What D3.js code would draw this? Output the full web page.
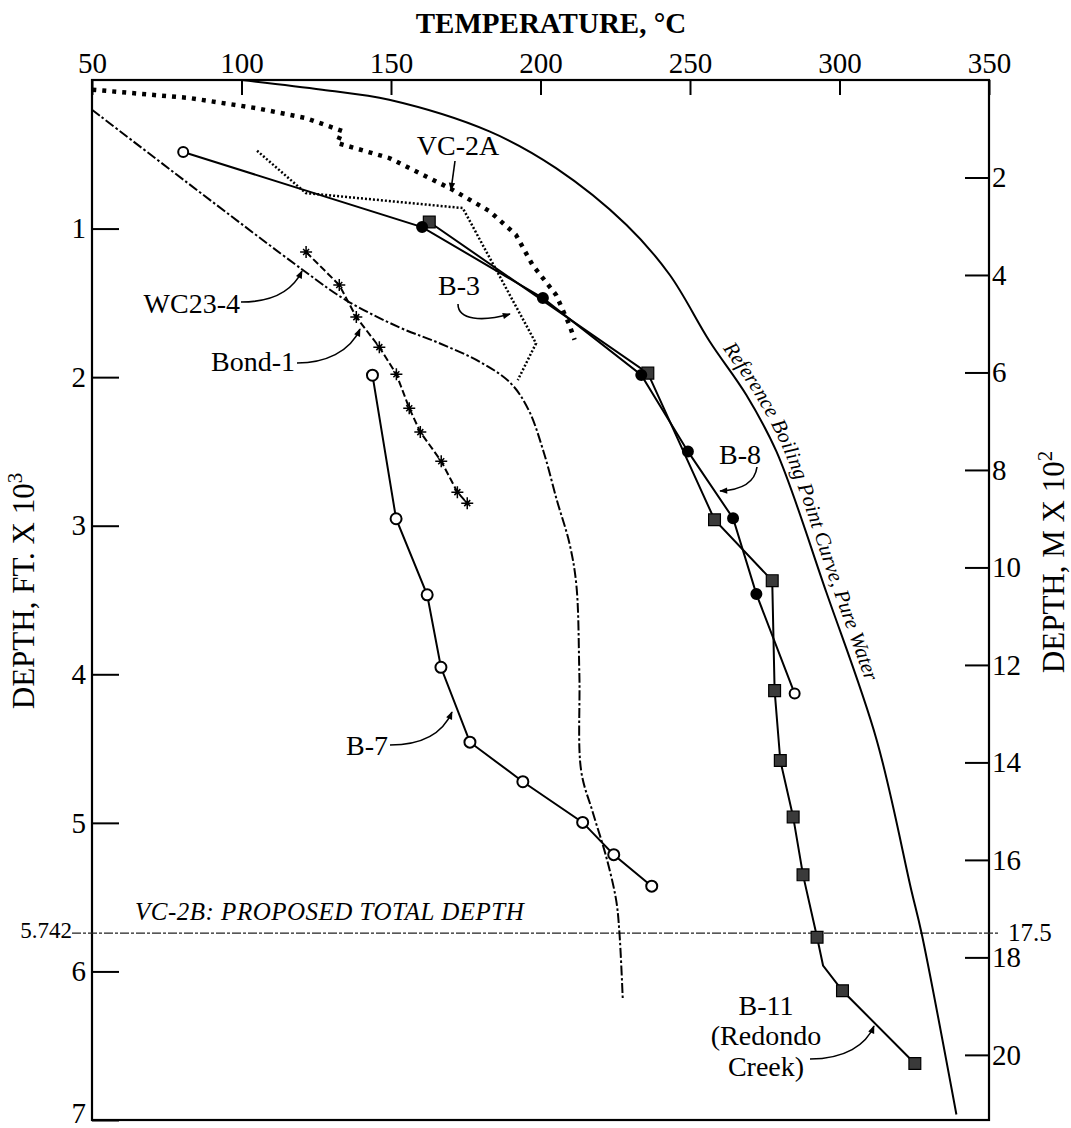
<!DOCTYPE html>
<html><head><meta charset="utf-8">
<script src="https://cdn.jsdelivr.net/npm/d3@7"></script>
<style>
body{margin:0;background:#fff;}
svg{display:block;}
svg text{font-family:"Liberation Serif","Times New Roman",serif;}
</style></head><body>
<svg id="chart" width="1071" height="1128"></svg>
<script>
// ---------- data ----------
const tempTicks = [50, 100, 150, 200, 250, 300, 350];
const depthFtTicks = [1, 2, 3, 4, 5, 6, 7];
const depthMTicks = [2, 4, 6, 8, 10, 12, 14, 16, 18, 20];
const proposedDepthFt = 5.742;
const proposedDepthLabel = "5.742";
const proposedDepthMLabel = "17.5";

// Reference boiling point curve, pure water (temperature °C, depth ft x 10^3)
const bpdT = [100, 127, 149.4, 182.9, 205.2, 228.7, 243.2, 256.6, 268.8, 278.9, 295.6, 312.4, 324.1, 327.4, 339.1];
const bpdD = [0, 0.065, 0.133, 0.346, 0.593, 0.974, 1.311, 1.76, 2.119, 2.5, 3.448, 4.44, 5.46, 5.738, 6.963];

// VC-2A (heavy dotted)
const vc2aT = [50.1, 82.5, 104.8, 121.5, 133.7, 132, 149.4, 169.5, 182.9, 191.8, 197.3, 205.2, 209.7, 211.4];
const vc2aD = [0.065, 0.121, 0.189, 0.256, 0.343, 0.424, 0.525, 0.727, 0.882, 1.042, 1.244, 1.446, 1.65, 1.749];

// B-3 (fine dotted)
const b3T = [105.2, 121.5, 174, 198.5, 192.4];
const b3D = [0.476, 0.761, 0.862, 1.773, 2.02];

// B-8 (solid, circles)
const b8T = [80.5, 160.4, 200.8, 233.7, 249.3, 264.4, 272.2, 285];
const b8D = [0.485, 0.99, 1.468, 1.985, 2.5, 2.95, 3.46, 4.13];
const b8Open = [true, false, false, false, false, false, false, true];

// B-11 Redondo Creek (solid, squares)
const b11T = [162.8, 235.9, 258.2, 277.5, 278.3, 280.2, 284.5, 287.8, 292.5, 294.5, 301, 325.2];
const b11D = [0.956, 1.973, 2.96, 3.37, 4.11, 4.58, 4.96, 5.35, 5.77, 5.96, 6.13, 6.62];
const b11Marker = [true, true, true, true, true, true, true, true, true, false, true, true];

// B-7 (solid, open circles)
const b7T = [143.8, 151.7, 162.1, 166.7, 176.4, 194.1, 214.1, 224.5, 237.2];
const b7D = [1.987, 2.953, 3.465, 3.953, 4.457, 4.723, 4.997, 5.214, 5.426];

// Bond-1 (dashed, stars)
const bond1T = [121.6, 132.7, 138.4, 146.1, 151.8, 156.1, 159.8, 166.8, 172.2, 175.5];
const bond1D = [1.158, 1.38, 1.596, 1.798, 1.98, 2.209, 2.37, 2.566, 2.774, 2.848];

// WC23-4 (dash-dot)
const wcT = [50, 120.4, 134.9, 152.8, 166, 180, 190, 196, 201, 205.5, 209.7, 212, 213, 213.6, 217.5, 222, 225.3, 226.4, 227.5];
const wcD = [0.2, 1.277, 1.481, 1.665, 1.77, 1.9, 2.04, 2.22, 2.5, 2.83, 3.12, 3.4, 4.0, 4.65, 4.93, 5.23, 5.52, 5.74, 6.18];

// ---------- setup ----------
const FONT = '"Liberation Serif","Times New Roman",serif';
const svg = d3.select('#chart').attr('font-family', FONT);
const x = d3.scaleLinear().domain([50, 350]).range([92, 989]);
const y = d3.scaleLinear().domain([0, 7]).range([80, 1120]);
const yM = d3.scaleLinear().domain([0, 7 / 0.32808]).range([80, 1120]);

const zip = (T, D) => T.map((t, i) => ({t, d: D[i], i}));

// arrow marker
const defs = svg.append('defs');
defs.append('marker').attr('id', 'ah').attr('markerUnits', 'userSpaceOnUse')
  .attr('viewBox', '0 0 10 10').attr('refX', 9).attr('refY', 5)
  .attr('markerWidth', 10).attr('markerHeight', 8).attr('orient', 'auto')
  .append('path').attr('d', 'M0,1 L10,5 L0,9 Z').attr('fill', '#000');

// ---------- frame & axes ----------
svg.append('rect').attr('x', x(50)).attr('y', y(0))
  .attr('width', x(350) - x(50)).attr('height', y(7) - y(0))
  .attr('fill', 'none').attr('stroke', '#000').attr('stroke-width', 2.2);

function styleAxis(g, fs) {
  g.select('.domain').remove();
  g.attr('font-family', FONT).attr('font-size', fs);
  g.selectAll('line').attr('stroke', '#000').attr('stroke-width', 2);
  g.selectAll('text').attr('fill', '#000').attr('font-family', FONT).attr('font-size', fs);
}
const fmt = d3.format('d');
const gTop = svg.append('g').attr('transform', `translate(0,${y(0)})`)
  .call(d3.axisTop(x).tickValues(tempTicks).tickFormat(fmt).tickSize(-15).tickSizeOuter(0).tickPadding(7));
styleAxis(gTop, 29);

const gLeft = svg.append('g').attr('transform', `translate(${x(50)},0)`)
  .call(d3.axisLeft(y).tickValues(depthFtTicks).tickFormat(fmt).tickSize(-27).tickSizeOuter(0).tickPadding(6));
styleAxis(gLeft, 29);
gLeft.selectAll('.tick').filter(d => d === 7).select('text').attr('dy', '0.1em');

const gRight = svg.append('g').attr('transform', `translate(${x(350)},0)`)
  .call(d3.axisRight(yM).tickValues(depthMTicks).tickFormat(fmt).tickSize(-24).tickSizeOuter(0).tickPadding(3));
styleAxis(gRight, 29);

// titles
svg.append('text').attr('x', 551).attr('y', 33).attr('text-anchor', 'middle')
  .attr('font-size', 29).attr('font-weight', 'bold').text('TEMPERATURE, °C');

const lt = svg.append('text').attr('transform', 'translate(34,591) rotate(-90)')
  .attr('text-anchor', 'middle').attr('font-size', 31);
lt.append('tspan').text('DEPTH, FT. X 10');
lt.append('tspan').attr('dy', -12).attr('font-size', 21).text('3');

const rt = svg.append('text').attr('transform', 'translate(1064,562) rotate(-90)')
  .attr('text-anchor', 'middle').attr('font-size', 31);
rt.append('tspan').text('DEPTH, M X 10');
rt.append('tspan').attr('dy', -12).attr('font-size', 21).text('2');

// ---------- proposed depth line ----------
const yp = y(proposedDepthFt);
svg.append('line').attr('x1', 72).attr('x2', 1000).attr('y1', yp).attr('y2', yp)
  .attr('stroke', '#222').attr('stroke-width', 1.3).attr('stroke-dasharray', '9,2,3,2');
svg.append('text').attr('x', 72).attr('y', yp + 5).attr('text-anchor', 'end')
  .attr('font-size', 23).text(proposedDepthLabel);
svg.append('text').attr('x', 1008).attr('y', yp + 8)
  .attr('font-size', 25).text(proposedDepthMLabel);
svg.append('text').attr('x', 135).attr('y', yp - 13).attr('font-size', 25)
  .attr('font-style', 'italic').attr('letter-spacing', 0.5).text('VC-2B: PROPOSED TOTAL DEPTH');

// ---------- curves ----------
const line = d3.line().x(p => x(p.t)).y(p => y(p.d));
const smooth = d3.line().x(p => x(p.t)).y(p => y(p.d)).curve(d3.curveCatmullRom.alpha(0.5));

const bpdPath = svg.append('path').attr('id', 'bpd').datum(zip(bpdT, bpdD)).attr('d', smooth)
  .attr('fill', 'none').attr('stroke', '#000').attr('stroke-width', 2);

svg.append('path').datum(zip(wcT, wcD)).attr('d', smooth)
  .attr('fill', 'none').attr('stroke', '#000').attr('stroke-width', 2)
  .attr('stroke-dasharray', '10,2.5,2.5,2.5');

svg.append('path').datum(zip(vc2aT, vc2aD)).attr('d', line)
  .attr('fill', 'none').attr('stroke', '#000').attr('stroke-width', 4.5)
  .attr('stroke-dasharray', '4,6');

svg.append('path').datum(zip(b3T, b3D)).attr('d', line)
  .attr('fill', 'none').attr('stroke', '#000').attr('stroke-width', 2.5)
  .attr('stroke-dasharray', '2,2');

svg.append('path').datum(zip(bond1T, bond1D)).attr('d', line)
  .attr('fill', 'none').attr('stroke', '#000').attr('stroke-width', 2)
  .attr('stroke-dasharray', '7,3');

svg.append('path').datum(zip(b8T, b8D)).attr('d', line)
  .attr('fill', 'none').attr('stroke', '#000').attr('stroke-width', 2);
svg.append('path').datum(zip(b11T, b11D)).attr('d', line)
  .attr('fill', 'none').attr('stroke', '#000').attr('stroke-width', 2);
svg.append('path').datum(zip(b7T, b7D)).attr('d', line)
  .attr('fill', 'none').attr('stroke', '#000').attr('stroke-width', 2);

// ---------- markers ----------
svg.append('g').selectAll('path').data(zip(bond1T, bond1D)).join('path')
  .attr('transform', p => `translate(${x(p.t)},${y(p.d)})`)
  .attr('d', 'M-6,0H6M0,-6V6M-3,-3L3,3M-3,3L3,-3')
  .attr('stroke', '#000').attr('stroke-width', 1.5).attr('fill', 'none');

svg.append('g').selectAll('path').data(zip(b11T, b11D).filter(p => b11Marker[p.i])).join('path')
  .attr('transform', p => `translate(${x(p.t)},${y(p.d)})`)
  .attr('d', d3.symbol().type(d3.symbolSquare).size(140))
  .attr('fill', '#3a3a3a').attr('stroke', '#000').attr('stroke-width', 1.2);

svg.append('g').selectAll('circle').data(zip(b8T, b8D)).join('circle')
  .attr('cx', p => x(p.t)).attr('cy', p => y(p.d)).attr('r', 5)
  .attr('fill', p => b8Open[p.i] ? '#fff' : '#000').attr('stroke', '#000').attr('stroke-width', 2);

svg.append('g').selectAll('circle').data(zip(b7T, b7D)).join('circle')
  .attr('cx', p => x(p.t)).attr('cy', p => y(p.d)).attr('r', 5.5)
  .attr('fill', '#fff').attr('stroke', '#000').attr('stroke-width', 2);

// ---------- boiling curve label ----------
const node = bpdPath.node();
const total = node.getTotalLength();
let start = 0;
for (let l = 0; l < total; l += 1) { if (node.getPointAtLength(l).y >= 352) { start = l; break; } }
svg.append('text').attr('font-size', 21).attr('font-style', 'italic').attr('dy', -7)
  .append('textPath').attr('href', '#bpd').attr('startOffset', start)
  .text('Reference Boiling Point Curve, Pure Water');

// ---------- labels & arrows ----------
const labels = [
  {t: 'VC-2A', x: 458, y: 155, a: 'middle'},
  {t: 'B-3', x: 459, y: 295, a: 'middle'},
  {t: 'B-8', x: 740, y: 464, a: 'middle'},
  {t: 'WC23-4', x: 240, y: 313, a: 'end'},
  {t: 'Bond-1', x: 295, y: 371, a: 'end'},
  {t: 'B-7', x: 367, y: 755, a: 'middle'},
  {t: 'B-11', x: 766, y: 1015, a: 'middle'},
  {t: '(Redondo', x: 766, y: 1045, a: 'middle'},
  {t: 'Creek)', x: 766, y: 1076, a: 'middle'}
];
svg.append('g').attr('font-size', 28).selectAll('text').data(labels).join('text')
  .attr('x', d => d.x).attr('y', d => d.y).attr('text-anchor', d => d.a).text(d => d.t);

const arrows = [
  'M455,161 L451,190',
  'M241,302 C270,302 292,292 302,271',
  'M297,363 C325,363 350,352 360,329',
  'M458,304 C458,320 482,322 510,314',
  'M757,467 C755,482 742,490 720,491',
  'M390,745 C420,745 442,735 452,712',
  'M810,1059 C845,1059 866,1045 874,1026'
];
svg.append('g').selectAll('path').data(arrows).join('path').attr('d', d => d)
  .attr('fill', 'none').attr('stroke', '#000').attr('stroke-width', 1.6)
  .attr('marker-end', 'url(#ah)');
</script>
</body></html>
